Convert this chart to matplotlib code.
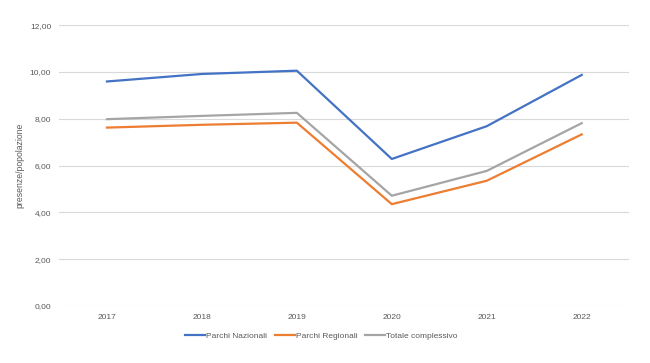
import matplotlib
matplotlib.use("Agg")
import matplotlib.pyplot as plt
from matplotlib.ticker import FuncFormatter

years = ["2017", "2018", "2019", "2020", "2021", "2022"]
parchi_nazionali = [9.59, 9.91, 10.05, 6.28, 7.68, 9.87]
parchi_regionali = [7.62, 7.74, 7.83, 4.35, 5.35, 7.33]
totale_complessivo = [7.98, 8.12, 8.25, 4.71, 5.77, 7.81]
yticks = [0, 2, 4, 6, 8, 10, 12]

plt.rcParams['font.family'] = ['Liberation Sans', 'DejaVu Sans']

fig = plt.figure(figsize=(6.5, 3.63), dpi=100)
ax = fig.add_axes([0.0915, 0.157, 0.8765, 0.774])

x = list(range(len(years)))
ax.plot(x, parchi_nazionali, color="#4472C4", lw=1.6, label="Parchi Nazionali", solid_joinstyle="round")
ax.plot(x, parchi_regionali, color="#ED7D31", lw=1.6, label="Parchi Regionali", solid_joinstyle="round")
ax.plot(x, totale_complessivo, color="#A5A5A5", lw=1.6, label="Totale complessivo", solid_joinstyle="round")

ax.set_xlim(-0.5, len(years) - 0.5)
ax.set_ylim(0, 12)
ax.set_yticks(yticks)
ax.yaxis.set_major_formatter(FuncFormatter(lambda v, p: f"{v:.2f}".replace(".", ",")))
ax.set_xticks(x)
ax.set_xticklabels(years)
ax.grid(axis="y", color="#D9D9D9", lw=0.8)
ax.set_axisbelow(True)
for s in ax.spines.values():
    s.set_visible(False)
ax.tick_params(axis="both", length=0, labelsize=6, colors="#595959", pad=6)
ax.set_ylabel("presenze/popolazione", fontsize=6.2, color="#595959", labelpad=4)

leg = ax.legend(loc="upper center", bbox_to_anchor=(0.46, -0.065), ncol=3, frameon=False,
                fontsize=6, handlelength=2.4, handletextpad=0.15, columnspacing=0.9)
for t in leg.get_texts():
    t.set_color("#595959")

fig.savefig("out.png", dpi=100)
